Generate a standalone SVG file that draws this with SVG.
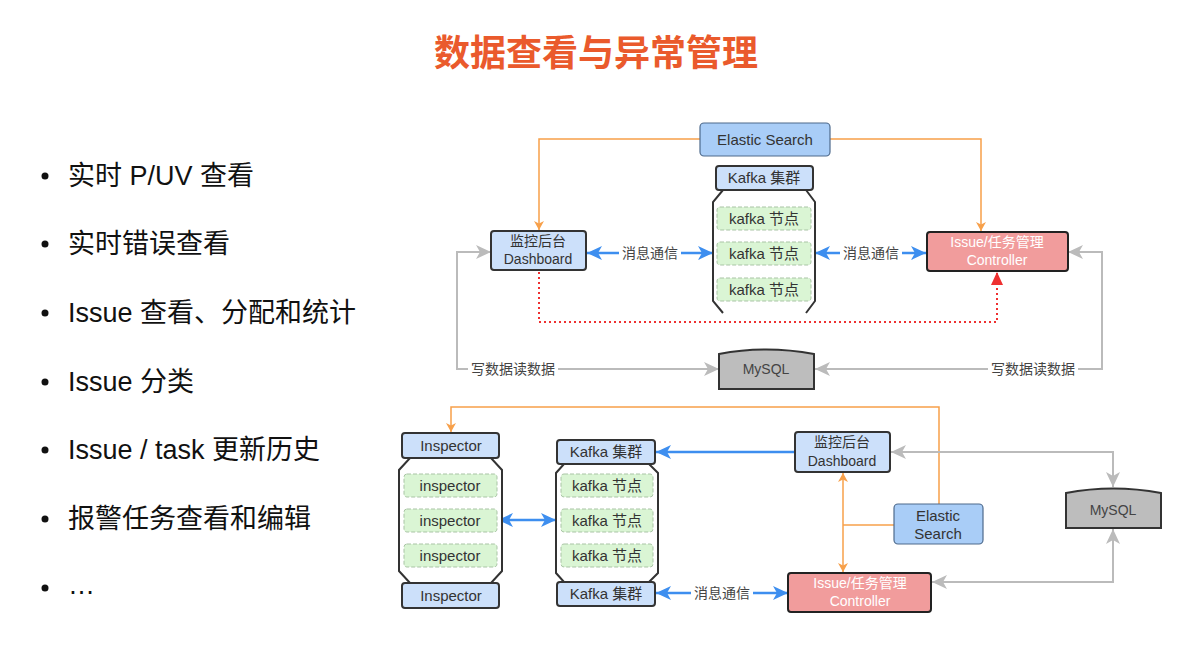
<svg xmlns="http://www.w3.org/2000/svg" width="1192" height="671" viewBox="0 0 1192 671">
<style>
text{font-family:"Liberation Sans","Noto Sans CJK SC",sans-serif;fill:#333;}
.title{font-family:"Noto Sans CJK SC",sans-serif;font-size:36px;font-weight:700;fill:#EA5A2C;}
.bul{font-size:27px;fill:#111;}
.n{font-size:14px;text-anchor:middle;}
.ni{font-size:15px;text-anchor:middle;}
.ne{font-size:15px;text-anchor:middle;}
.lbl{font-size:14px;text-anchor:middle;fill:#444;}
.hdr{fill:#CCE0FA;stroke:#333;stroke-width:2;}
.es{fill:#A9CDF7;stroke:#4E6A8C;stroke-width:1.2;}
.item{fill:#DAF5D4;stroke:#A9C4A5;stroke-width:1;stroke-dasharray:4 2;}
.ctl{fill:#F19C9C;stroke:#222;stroke-width:2;}
.db{fill:#BDBDBD;stroke:#333;stroke-width:2;}
.body{fill:#fff;stroke:#333;stroke-width:2;}
.blue{fill:none;stroke:#3D8EEF;stroke-width:2.5;}
.gray{fill:none;stroke:#BBBBBB;stroke-width:2;}
.orange{fill:none;stroke:#F7A04A;stroke-width:1.5;}
.red{fill:none;stroke:#EE3030;stroke-width:2;stroke-dasharray:2 3;}
.bg{fill:#fff;}
.wt{fill:#fff;}
</style>
<defs>
<marker id="ab" markerUnits="userSpaceOnUse" markerWidth="16" markerHeight="14" refX="15" refY="7" orient="auto-start-reverse"><path d="M0,0 L15,7 L0,14 L4,7 Z" fill="#3D8EEF"/></marker>
<marker id="ag" markerUnits="userSpaceOnUse" markerWidth="16" markerHeight="14" refX="15" refY="7" orient="auto-start-reverse"><path d="M0,0 L15,7 L0,14 L4,7 Z" fill="#BBBBBB"/></marker>
<marker id="ao" markerUnits="userSpaceOnUse" markerWidth="10" markerHeight="10" refX="9" refY="5" orient="auto-start-reverse"><path d="M0,0 L9,5 L0,10 L2.5,5 Z" fill="#F7A04A"/></marker>
<marker id="ar" markerUnits="userSpaceOnUse" markerWidth="14" markerHeight="14" refX="13" refY="6" orient="auto-start-reverse"><path d="M0,0 L13,6 L0,12 Z" fill="#EE3030"/></marker>
</defs>
<rect width="1192" height="671" fill="#fff"/>
<text class="title" x="596" y="66" text-anchor="middle">数据查看与异常管理</text>
<g id="bullets">
<circle cx="45" cy="176" r="3.5" fill="#111"/><text class="bul" x="68" y="185">实时 P/UV 查看</text>
<circle cx="45" cy="244" r="3.5" fill="#111"/><text class="bul" x="68" y="253">实时错误查看</text>
<circle cx="45" cy="313" r="3.5" fill="#111"/><text class="bul" x="68" y="322">Issue 查看、分配和统计</text>
<circle cx="45" cy="382" r="3.5" fill="#111"/><text class="bul" x="68" y="391">Issue 分类</text>
<circle cx="45" cy="450" r="3.5" fill="#111"/><text class="bul" x="68" y="459">Issue / task 更新历史</text>
<circle cx="45" cy="519" r="3.5" fill="#111"/><text class="bul" x="68" y="528">报警任务查看和编辑</text>
<circle cx="45" cy="588" r="3.5" fill="#111"/><text class="bul" x="68" y="594">…</text>
</g>
<g id="connectors">
<path class="orange" d="M700,139 H539 V230" marker-end="url(#ao)"/>
<path class="orange" d="M830,139 H981 V231" marker-end="url(#ao)"/>
<path class="red" d="M539,272 V322 H997 V272" marker-end="url(#ar)"/>
<path class="gray" d="M491,252 H457 V369 H719" marker-start="url(#ag)" marker-end="url(#ag)"/>
<path class="gray" d="M1068,252 H1102 V369 H815" marker-start="url(#ag)" marker-end="url(#ag)"/>
<path class="blue" d="M587,253 H713" marker-start="url(#ab)" marker-end="url(#ab)"/>
<path class="blue" d="M815,253 H926" marker-start="url(#ab)" marker-end="url(#ab)"/>
<rect class="bg" x="619" y="243" width="62" height="20"/><text class="lbl" x="650" y="258">消息通信</text>
<rect class="bg" x="840" y="243" width="62" height="20"/><text class="lbl" x="871" y="258">消息通信</text>
<rect class="bg" x="468" y="359" width="90" height="20"/><text class="lbl" x="513" y="374">写数据读数据</text>
<rect class="bg" x="988" y="359" width="90" height="20"/><text class="lbl" x="1033" y="374">写数据读数据</text>
<path class="orange" d="M939,504 V407 H451 V432" marker-end="url(#ao)"/>
<path class="orange" d="M843,473 V572" marker-start="url(#ao)" marker-end="url(#ao)"/>
<path class="orange" d="M843,525 H894"/>
<path class="blue" d="M795,452 H656" marker-end="url(#ab)"/>
<path class="blue" d="M498,520 H556" marker-start="url(#ab)" marker-end="url(#ab)"/>
<path class="blue" d="M656,593 H788" marker-start="url(#ab)" marker-end="url(#ab)"/>
<rect class="bg" x="691" y="583" width="62" height="20"/><text class="lbl" x="722" y="598">消息通信</text>
<path class="gray" d="M891,452 H1113 V487" marker-start="url(#ag)" marker-end="url(#ag)"/>
<path class="gray" d="M932,582 H1113 V529" marker-start="url(#ag)" marker-end="url(#ag)"/>
</g>
<g id="es-top"><rect class="es" x="700" y="123" width="130" height="33" rx="4"/><text class="ne" x="765" y="145">Elastic Search</text></g>
<g id="kafka-top">
<path class="body" d="M723,190 L713,202 V301 L723,313 M806,190 L815,202 V301 L806,313" fill="none"/>
<rect class="hdr" x="716" y="166" width="97" height="24" rx="3"/><text class="ni" x="764" y="183">Kafka 集群</text>
<rect class="item" x="717" y="207" width="94" height="23" rx="3"/><text class="ni" x="764" y="224">kafka 节点</text>
<rect class="item" x="717" y="242" width="94" height="23" rx="3"/><text class="ni" x="764" y="259">kafka 节点</text>
<rect class="item" x="717" y="278" width="94" height="23" rx="3"/><text class="ni" x="764" y="295">kafka 节点</text>
</g>
<g id="dashboard-top"><rect class="hdr" x="491" y="231" width="95" height="39" rx="3"/><text class="n" x="538" y="246">监控后台</text><text class="n" x="538" y="264">Dashboard</text></g>
<g id="controller-top"><rect class="ctl" x="927" y="232" width="141" height="39" rx="3"/><text class="n wt" x="997" y="247">Issue/任务管理</text><text class="n wt" x="997" y="265">Controller</text></g>
<g id="mysql-top"><path class="db" d="M719,354 Q766,345 814,354 V389 H719 Z"/><text class="n" x="766" y="374" style="fill:#444">MySQL</text></g>
<g id="inspector">
<path class="body" d="M410,458 H491 L502,470 V571 L491,583 H410 L399,571 V470 Z"/>
<rect class="hdr" x="402" y="433" width="97" height="25" rx="3"/><text class="ni" x="451" y="451">Inspector</text>
<rect class="hdr" x="402" y="583" width="97" height="25" rx="3"/><text class="ni" x="451" y="601">Inspector</text>
<rect class="item" x="404" y="474" width="93" height="23" rx="3"/><text class="ni" x="450" y="491">inspector</text>
<rect class="item" x="404" y="509" width="93" height="23" rx="3"/><text class="ni" x="450" y="526">inspector</text>
<rect class="item" x="404" y="544" width="93" height="23" rx="3"/><text class="ni" x="450" y="561">inspector</text>
</g>
<g id="kafka-bottom">
<path class="body" d="M564,464 H649 L658,473 V573 L649,582 H564 L556,573 V473 Z"/>
<rect class="hdr" x="557" y="440" width="98" height="24" rx="3"/><text class="ni" x="606" y="457">Kafka 集群</text>
<rect class="hdr" x="557" y="582" width="98" height="24" rx="3"/><text class="ni" x="606" y="599">Kafka 集群</text>
<rect class="item" x="561" y="474" width="92" height="23" rx="3"/><text class="ni" x="607" y="491">kafka 节点</text>
<rect class="item" x="561" y="509" width="92" height="23" rx="3"/><text class="ni" x="607" y="526">kafka 节点</text>
<rect class="item" x="561" y="544" width="92" height="23" rx="3"/><text class="ni" x="607" y="561">kafka 节点</text>
</g>
<g id="dashboard-bottom"><rect class="hdr" x="795" y="432" width="95" height="40" rx="3"/><text class="n" x="842" y="447">监控后台</text><text class="n" x="842" y="466">Dashboard</text></g>
<g id="es-bottom"><rect class="es" x="894" y="504" width="89" height="40" rx="4"/><text class="ne" x="938" y="521">Elastic</text><text class="ne" x="938" y="539">Search</text></g>
<g id="controller-bottom"><rect class="ctl" x="788" y="573" width="143" height="39" rx="3"/><text class="n wt" x="860" y="588">Issue/任务管理</text><text class="n wt" x="860" y="606">Controller</text></g>
<g id="mysql-bottom"><path class="db" d="M1066,493 Q1113,484 1161,493 V528 H1066 Z"/><text class="n" x="1113" y="515" style="fill:#444">MySQL</text></g>
</svg>
